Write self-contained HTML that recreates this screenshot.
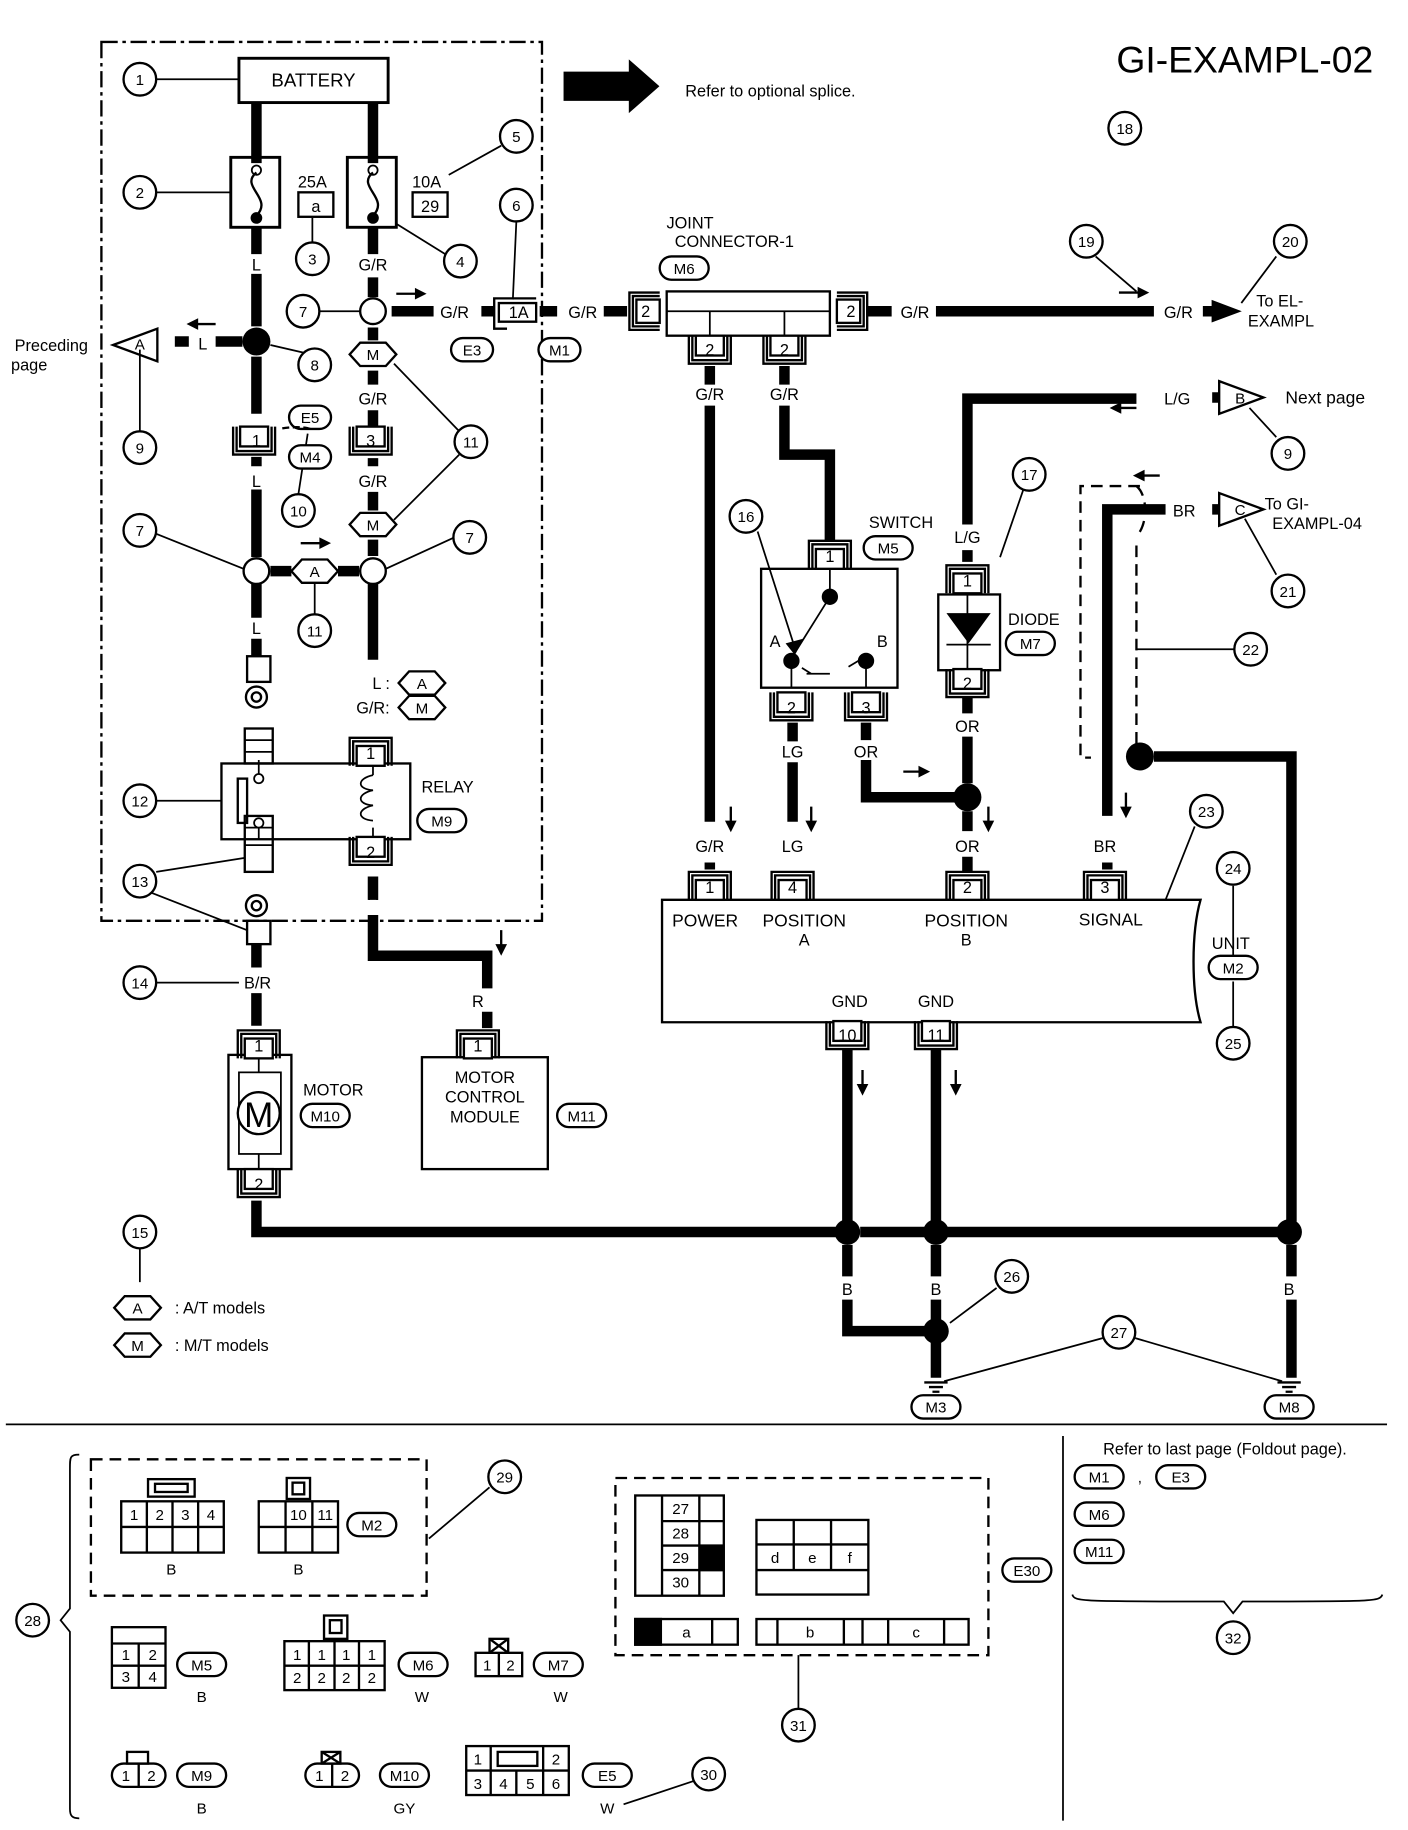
<!DOCTYPE html>
<html><head><meta charset="utf-8"><style>
html,body{margin:0;padding:0;background:#fff}
svg{display:block}
text{font-family:"Liberation Sans",sans-serif;fill:#000}
</style></head><body>
<svg width="1408" height="1830" viewBox="0 0 1208 1570" preserveAspectRatio="none" xmlns="http://www.w3.org/2000/svg">
<defs>
<g id="ct"><path d="M-18,12V-12H18V12M-15,12V-9H15V12" fill="none" stroke="#000" stroke-width="2"/><rect x="-12" y="-5" width="24" height="17" fill="#fff" stroke="#000" stroke-width="2"/></g>
<g id="cb"><path d="M-18,-12V12H18V-12M-15,-12V9H15V-12" fill="none" stroke="#000" stroke-width="2"/><rect x="-12" y="-12" width="24" height="17" fill="#fff" stroke="#000" stroke-width="2"/></g>
<g id="cl"><path d="M12,-16H-14V16H12M12,-13H-11V13H12" fill="none" stroke="#000" stroke-width="2"/><rect x="-8" y="-10" width="20" height="20" fill="#fff" stroke="#000" stroke-width="2"/></g>
<g id="cr"><path d="M-12,-16H14V16H-12M-12,-13H11V13H-12" fill="none" stroke="#000" stroke-width="2"/><rect x="-12" y="-10" width="20" height="20" fill="#fff" stroke="#000" stroke-width="2"/></g>
<g id="gnd"><path d="M-10,0H10M-6,4H6M-3,8H3" stroke="#000" stroke-width="2"/></g>
</defs>
<g fill="none" stroke="#000">
<rect x="87" y="36" width="378" height="754" stroke-width="2" stroke-dasharray="14,4,3,4"/>
<g stroke-width="9">
<path d="M220,88V140M320,88V140"/>
<path d="M220,195V218M220,235V280M220,306V355M220,392V400M220,420V478M220,500V530M220,548V563"/>
<path d="M320,195V218M320,238V255M320,281V292M320,318V330M320,352V367M320,393V400M320,422V438M320,463V477M320,500V566"/>
<path d="M336,267H372M413,267H424"/>
<path d="M232,490H250M290,490H308"/>
<path d="M150,293H162M185,293H208"/>
<path d="M463,267H478M518,267H538"/>
<path d="M744,267H765M803,267H990M1032,267H1040"/>
<path d="M609,314V330M609,348V705M609,740V746M673,314V330M673,348V390H712V465"/>
<path d="M680,620V636M680,654V705"/>
<path d="M743,620V635M743,652V684H820"/>
<path d="M975,342H830V450M830,472V482"/>
<path d="M830,598V612M830,632V672M830,696V713M830,735V748"/>
<path d="M1000,437H950V700M950,740V746"/>
<path d="M990,649H1108V1048"/>
<path d="M1108,1068V1095M1108,1115V1182"/>
<path d="M320,752V772M320,785V820H418V848M418,868V882"/>
<path d="M220,810V830M220,852V880"/>
<path d="M220,1030V1057H718M738,1057H795M812,1057H1098"/>
<path d="M727,900V1048M727,1068V1095M727,1115V1142H795"/>
<path d="M803,900V1048M803,1068V1095M803,1115V1182"/>
<path d="M1040,341H1046M1040,437H1046"/>
</g>
<path d="M1040,258L1064,267L1040,276Z" fill="#000" stroke-width="1"/>
<path d="M484,62H540V52L565,74L540,96V86H484Z" fill="#000" stroke-width="1"/>
<rect x="205" y="50" width="128" height="38" stroke-width="2.5"/>
<rect x="198" y="135" width="42" height="60" stroke-width="2.5"/>
<rect x="298" y="135" width="42" height="60" stroke-width="2.5"/>
<path d="M220,148C205,160 235,170 220,185M320,148C305,160 335,170 320,185" stroke-width="2"/>
<rect x="256" y="165" width="30" height="21" stroke-width="2"/>
<rect x="354" y="165" width="30" height="21" stroke-width="2"/>
<rect x="572" y="250" width="140" height="38" stroke-width="2"/>
<path d="M572,267H712M609,267V288M673,267V288" stroke-width="1.5"/>
<rect x="653" y="488" width="117" height="102" stroke-width="2"/>
<path d="M712,488V512M679,568V590M743,568V590" stroke-width="1.5"/>
<path d="M712,512L682,560M692,578H712M728,572L738,566M688,573L696,578" stroke-width="1.5"/>
<rect x="805" y="510" width="53" height="65" stroke-width="2"/>
<path d="M830,510V575M812,553H850" stroke-width="1.5"/>
<path d="M978,417H927V650H936M975,417C985,425 985,450 975,460M975,468V640" stroke-width="2" stroke-dasharray="10,6"/>
<rect x="190" y="655" width="162" height="65" stroke-width="2"/>
<rect x="204" y="668" width="8" height="38" stroke-width="2"/>
<path d="M222,652V668M222,706V720M320,655V665M320,710V720" stroke-width="1.5"/>
<path d="M320,665c-14,3 -14,12 0,13c-14,3 -14,12 0,13c-14,3 -14,12 0,13" stroke-width="1.5"/>
<rect x="210" y="625" width="24" height="30" stroke-width="2"/>
<path d="M210,635H234M210,645H234M210,710H234M210,725H234" stroke-width="1.5"/>
<rect x="210" y="700" width="24" height="48" stroke-width="2"/>
<rect x="212" y="563" width="20" height="22" stroke-width="2"/>
<circle cx="220" cy="598" r="9" stroke-width="2"/><circle cx="220" cy="598" r="4" stroke-width="2"/>
<circle cx="220" cy="777" r="9" stroke-width="2"/><circle cx="220" cy="777" r="4" stroke-width="2"/>
<rect x="212" y="790" width="20" height="20" stroke-width="2"/>
<rect x="196" y="905" width="54" height="98" stroke-width="2"/>
<rect x="205" y="920" width="36" height="70" stroke-width="1.5"/>
<path d="M222,905V920M222,990V1003" stroke-width="1.5"/>
<circle cx="222" cy="955" r="18" stroke-width="2" fill="#fff"/>
<rect x="362" y="907" width="108" height="96" stroke-width="2"/>
<path d="M568,772H1030C1022,800 1022,850 1030,877H568Z" stroke-width="2"/>
<g stroke-width="2" fill="#fff"><circle cx="320" cy="267" r="11"/><circle cx="220" cy="490" r="11"/><circle cx="320" cy="490" r="11"/></g>
<g stroke-width="2" fill="#fff">
<path d="M300,304L309,294H331L340,304L331,314H309Z"/>
<path d="M300,450L309,440H331L340,450L331,460H309Z"/>
<path d="M250,490L259,480H281L290,490L281,500H259Z"/>
<path d="M342,586L351,576H373L382,586L373,596H351Z"/>
<path d="M342,607L351,597H373L382,607L373,617H351Z"/>
<path d="M98,1122L107,1112H129L138,1122L129,1132H107Z"/>
<path d="M98,1154L107,1144H129L138,1154L129,1164H107Z"/>
</g>
<g stroke-width="2" fill="#fff">
<path d="M97,296L135,282V310Z"/>
<path d="M1046,327L1084,341L1046,355Z"/>
<path d="M1046,423L1084,437L1046,451Z"/>
</g>
<g fill="#000" stroke="none">
<circle cx="220" cy="293" r="12"/><circle cx="830" cy="684" r="12"/><circle cx="978" cy="649" r="12"/>
<circle cx="727" cy="1057" r="11"/><circle cx="803" cy="1057" r="11"/><circle cx="1106" cy="1057" r="11"/><circle cx="803" cy="1142" r="11"/>
<circle cx="220" cy="187" r="5"/><circle cx="320" cy="187" r="5"/>
<circle cx="712" cy="512" r="7"/><circle cx="679" cy="567" r="7"/><circle cx="743" cy="567" r="7"/>
<path d="M812,526H850L831,552Z"/>
<path d="M674,552L689,548L682,562Z"/>
</g>
<circle cx="220" cy="146" r="4" stroke-width="1.5"/><circle cx="320" cy="146" r="4" stroke-width="1.5"/>
<circle cx="222" cy="668" r="4" stroke-width="1.5" fill="#fff"/><circle cx="222" cy="706" r="4" stroke-width="1.5" fill="#fff"/>
<use href="#gnd" x="803" y="1186"/><use href="#gnd" x="1106" y="1186"/>
<g stroke-width="2">
<path d="M340,252H358M430,798V812M627,692V706M696,692V706M848,692V706M966,680V694M740,918V932M820,918V932M960,251H978M775,662H790M960,350H975M980,408H995M258,466H276M168,278H185"/>
</g>
<g fill="#000" stroke="none">
<path d="M356,247L366,252L356,257Z"/><path d="M425,810L430,820L435,810Z"/><path d="M622,704L627,714L632,704Z"/><path d="M691,704L696,714L701,704Z"/><path d="M843,704L848,714L853,704Z"/><path d="M961,692L966,702L971,692Z"/><path d="M735,930L740,940L745,930Z"/><path d="M815,930L820,940L825,930Z"/><path d="M976,246L986,251L976,256Z"/><path d="M788,657L798,662L788,667Z"/><path d="M962,345L952,350L962,355Z"/><path d="M982,403L972,408L982,413Z"/><path d="M274,461L284,466L274,471Z"/><path d="M170,273L160,278L170,283Z"/>
</g>
<g stroke-width="1.5">
<path d="M134,68H205M134,165H198M268,208V187M382,218L340,192M430,125L385,150M443,190L440,257M274,267H309M284,308L232,296M120,370V300M256,424L264,372M394,370L338,312M394,390L338,446M134,458L209,488M390,461L331,488M270,527V500M134,687H190M134,748L210,736M130,766L212,798M134,843H205M120,1043V1100M650,456L682,556M878,420L858,478M940,220L975,250M1095,220L1065,260M1095,375L1072,350M1095,493L1068,445M1059,557H975M1025,709L1000,772M1058,760V830M1058,842V881M855,1105L815,1135M946,1148L810,1185M974,1148L1100,1185M420,1276L368,1320M595,1528L535,1548M685,1466V1420"/>
</g>
<g stroke-width="2" fill="#fff">
<circle cx="120" cy="68" r="14"/><circle cx="120" cy="165" r="14"/><circle cx="268" cy="222" r="14"/><circle cx="395" cy="224" r="14"/><circle cx="443" cy="117" r="14"/><circle cx="443" cy="176" r="14"/><circle cx="260" cy="267" r="14"/><circle cx="270" cy="313" r="14"/><circle cx="120" cy="384" r="14"/><circle cx="256" cy="438" r="14"/><circle cx="404" cy="379" r="14"/><circle cx="120" cy="455" r="14"/><circle cx="403" cy="461" r="14"/><circle cx="270" cy="541" r="14"/><circle cx="120" cy="687" r="14"/><circle cx="120" cy="756" r="14"/><circle cx="120" cy="843" r="14"/><circle cx="120" cy="1057" r="14"/><circle cx="640" cy="443" r="14"/><circle cx="883" cy="407" r="14"/><circle cx="965" cy="110" r="14"/><circle cx="932" cy="207" r="14"/><circle cx="1107" cy="207" r="14"/><circle cx="1105" cy="389" r="14"/><circle cx="1105" cy="507" r="14"/><circle cx="1073" cy="557" r="14"/><circle cx="1035" cy="696" r="14"/><circle cx="1058" cy="745" r="14"/><circle cx="1058" cy="895" r="14"/><circle cx="868" cy="1095" r="14"/><circle cx="960" cy="1143" r="14"/><circle cx="28" cy="1390" r="14"/><circle cx="433" cy="1267" r="14"/><circle cx="608" cy="1522" r="14"/><circle cx="685" cy="1480" r="14"/><circle cx="1058" cy="1405" r="14"/>
</g>
<g stroke-width="2" fill="#fff">
<rect x="387" y="290" width="36" height="20" rx="10"/><rect x="462" y="290" width="36" height="20" rx="10"/>
<rect x="248" y="348" width="36" height="20" rx="10"/><rect x="248" y="382" width="36" height="20" rx="10"/>
<rect x="566" y="220" width="42" height="20" rx="10"/><rect x="741" y="460" width="42" height="20" rx="10"/><rect x="863" y="542" width="42" height="20" rx="10"/>
<rect x="358" y="694" width="42" height="20" rx="10"/><rect x="258" y="947" width="42" height="20" rx="10"/><rect x="478" y="947" width="42" height="20" rx="10"/>
<rect x="1037" y="820" width="42" height="20" rx="10"/><rect x="782" y="1197" width="42" height="20" rx="10"/><rect x="1085" y="1197" width="42" height="20" rx="10"/>
<rect x="922" y="1257" width="42" height="20" rx="10"/><rect x="992" y="1257" width="42" height="20" rx="10"/><rect x="922" y="1289" width="42" height="20" rx="10"/><rect x="922" y="1321" width="42" height="20" rx="10"/>
<rect x="298" y="1298" width="42" height="20" rx="10"/><rect x="152" y="1418" width="42" height="20" rx="10"/><rect x="342" y="1418" width="42" height="20" rx="10"/><rect x="458" y="1418" width="42" height="20" rx="10"/>
<rect x="152" y="1513" width="42" height="20" rx="10"/><rect x="326" y="1513" width="42" height="20" rx="10"/><rect x="500" y="1513" width="42" height="20" rx="10"/><rect x="860" y="1337" width="42" height="20" rx="10"/>
</g>
<path d="M266,368C262,366 248,366 240,368" stroke-width="2" stroke-dasharray="6,3"/>
<path d="M5,1222H1190M912,1232V1562" stroke-width="1.5"/>
<path d="M68,1248C60,1248 60,1250 60,1260V1380L52,1390L60,1400V1552C60,1558 62,1560 68,1560" stroke-width="1.5"/>
<path d="M920,1368C922,1374 925,1374 1050,1374L1058,1384L1066,1374C1180,1374 1184,1374 1186,1368" stroke-width="1.5"/>
<rect x="78" y="1252" width="288" height="117" stroke-width="2" stroke-dasharray="10,6"/>
<rect x="528" y="1268" width="320" height="152" stroke-width="2" stroke-dasharray="10,6"/>
<g stroke-width="2" fill="#fff">
<rect x="104" y="1288" width="88" height="44"/><path d="M104,1310H192M126,1288V1332M148,1288V1332M170,1288V1332"/><rect x="127" y="1269" width="40" height="15"/><rect x="133" y="1273" width="28" height="7"/>
<rect x="222" y="1288" width="68" height="44"/><path d="M222,1310H290M245,1288V1332M268,1288V1332"/><rect x="246" y="1268" width="20" height="18"/><rect x="251" y="1272" width="10" height="10"/>
<rect x="545" y="1283" width="76" height="86"/><path d="M568,1283V1369M600,1283V1369M568,1305H621M568,1326H621M568,1347H621"/><rect x="601" y="1327" width="19" height="20" fill="#000"/>
<rect x="649" y="1304" width="96" height="64"/><path d="M649,1325H745M649,1347H745M681,1304V1347M713,1304V1347"/>
<rect x="545" y="1389" width="88" height="22"/><rect x="545" y="1389" width="22" height="22" fill="#000"/><path d="M611,1389V1411"/>
<rect x="649" y="1389" width="182" height="22"/><path d="M667,1389V1411M724,1389V1411M740,1389V1411M762,1389V1411M810,1389V1411"/>
<rect x="96" y="1396" width="46" height="52"/><path d="M96,1410H142M96,1429H142M119,1410V1448"/>
<rect x="244" y="1408" width="86" height="42"/><path d="M244,1429H330M265,1408V1450M287,1408V1450M308,1408V1450"/><rect x="278" y="1386" width="20" height="20"/><rect x="283" y="1390" width="10" height="11"/>
<rect x="408" y="1418" width="40" height="20"/><path d="M428,1418V1438"/><rect x="420" y="1406" width="16" height="12"/><path d="M420,1406L436,1418M436,1406L420,1418"/>
<rect x="96" y="1513" width="46" height="20" rx="10"/><path d="M119,1513V1533"/><rect x="109" y="1503" width="18" height="10"/>
<rect x="262" y="1513" width="46" height="20" rx="10"/><path d="M285,1513V1533"/><rect x="276" y="1503" width="16" height="10"/><path d="M276,1503L292,1513M292,1503L276,1513"/>
<rect x="400" y="1498" width="88" height="42"/><path d="M400,1519H488M421,1498V1540M466,1498V1519M443,1519V1540M466,1519V1540"/><rect x="427" y="1503" width="34" height="12"/>
</g>
</g>
<use href="#cb" x="218" y="378"/><use href="#cb" x="318" y="378"/>
<use href="#ct" x="318" y="645"/><use href="#cb" x="318" y="730"/>
<use href="#ct" x="222" y="896"/><use href="#cb" x="222" y="1015"/>
<use href="#ct" x="410" y="896"/>
<use href="#ct" x="609" y="760"/><use href="#ct" x="680" y="760"/><use href="#ct" x="830" y="760"/><use href="#ct" x="948" y="760"/>
<use href="#cb" x="727" y="888"/><use href="#cb" x="803" y="888"/>
<use href="#ct" x="712" y="476"/><use href="#cb" x="679" y="606"/><use href="#cb" x="743" y="606"/>
<use href="#ct" x="830" y="497"/><use href="#cb" x="830" y="586"/>
<use href="#cb" x="609" y="300"/><use href="#cb" x="673" y="300"/>
<use href="#cl" x="554" y="267"/><use href="#cr" x="730" y="267"/>
<g fill="none" stroke="#000" stroke-width="2"><path d="M460,256H424V282H435M428,260H460V276H428Z"/></g>

<g font-size="14" text-anchor="middle">
<text x="269" y="74" font-size="16">BATTERY</text>
<text x="268" y="161">25A</text><text x="271" y="182">a</text>
<text x="366" y="161">10A</text><text x="369" y="182">29</text>
<text x="220" y="232">L</text><text x="320" y="232">G/R</text>
<text x="390" y="273">G/R</text><text x="445" y="273">1A</text><text x="500" y="273">G/R</text>
<text x="174" y="300">L</text>
<text x="220" y="349">L</text><text x="320" y="347">G/R</text><text x="220" y="418">L</text><text x="320" y="418">G/R</text>
<text x="220" y="544">L</text>
<text x="320" y="309" font-size="13">M</text><text x="320" y="455" font-size="13">M</text><text x="270" y="495" font-size="13">A</text>
<text x="362" y="591" font-size="13">A</text><text x="362" y="612" font-size="13">M</text>
<text x="327" y="591">L :</text><text x="320" y="612">G/R:</text>
<text x="120" y="300" font-size="13">A</text><text x="1064" y="346" font-size="13">B</text><text x="1064" y="442" font-size="13">C</text>
<text x="220" y="383">1</text><text x="318" y="383">3</text>
<text x="318" y="651">1</text><text x="318" y="736">2</text>
<text x="222" y="902">1</text><text x="222" y="1021">2</text><text x="410" y="902">1</text>
<text x="222" y="967" font-size="30">M</text>
<text x="221" y="848">B/R</text><text x="320" y="772">R</text><text x="410" y="864">R</text>
<text x="384" y="680">RELAY</text>
<text x="286" y="940">MOTOR</text>
<text x="416" y="929">MOTOR</text><text x="416" y="946">CONTROL</text><text x="416" y="963">MODULE</text>
<text x="1068" y="62" font-size="32">GI-EXAMPL-02</text>
<text x="661" y="83">Refer to optional splice.</text>
<text x="44" y="301">Preceding</text><text x="25" y="318">page</text>
<text x="592" y="196">JOINT</text><text x="630" y="212">CONNECTOR-1</text>
<text x="554" y="272">2</text><text x="730" y="272">2</text><text x="609" y="305">2</text><text x="673" y="305">2</text>
<text x="785" y="273">G/R</text><text x="1011" y="273">G/R</text>
<text x="1098" y="263">To EL-</text><text x="1099" y="280">EXAMPL</text>
<text x="609" y="343">G/R</text><text x="673" y="343">G/R</text>
<text x="1010" y="347">L/G</text><text x="1137" y="346" font-size="15">Next  page</text>
<text x="1016" y="443">BR</text><text x="1104" y="437">To GI-</text><text x="1130" y="454">EXAMPL-04</text>
<text x="773" y="453">SWITCH</text><text x="712" y="482">1</text>
<text x="665" y="555">A</text><text x="757" y="555">B</text>
<text x="679" y="612">2</text><text x="743" y="612">3</text>
<text x="680" y="650">LG</text><text x="743" y="650">OR</text><text x="680" y="731">LG</text>
<text x="830" y="466">L/G</text><text x="830" y="503">1</text><text x="830" y="591">2</text>
<text x="887" y="536">DIODE</text>
<text x="830" y="628">OR</text><text x="830" y="731">OR</text>
<text x="609" y="731">G/R</text><text x="948" y="731">BR</text>
<text x="609" y="766">1</text><text x="680" y="766">4</text><text x="830" y="766">2</text><text x="948" y="766">3</text>
<text x="605" y="795" font-size="15">POWER</text><text x="690" y="795" font-size="15">POSITION</text><text x="690" y="811">A</text>
<text x="829" y="795" font-size="15">POSITION</text><text x="829" y="811">B</text><text x="953" y="794" font-size="15">SIGNAL</text>
<text x="729" y="864">GND</text><text x="803" y="864">GND</text>
<text x="727" y="893">10</text><text x="803" y="893">11</text>
<text x="1056" y="814">UNIT</text>
<text x="727" y="1111">B</text><text x="803" y="1111">B</text><text x="1106" y="1111">B</text>
<text x="118" y="1127" font-size="13">A</text><text x="118" y="1159" font-size="13">M</text>
<text x="150" y="1127" text-anchor="start">: A/T models</text><text x="150" y="1159" text-anchor="start">: M/T models</text>
</g>
<g font-size="13" text-anchor="middle">
<text x="120" y="73">1</text><text x="120" y="170">2</text><text x="268" y="227">3</text><text x="395" y="229">4</text><text x="443" y="122">5</text><text x="443" y="181">6</text><text x="260" y="272">7</text><text x="270" y="318">8</text><text x="120" y="389">9</text><text x="256" y="443">10</text><text x="404" y="384">11</text><text x="120" y="460">7</text><text x="403" y="466">7</text><text x="270" y="546">11</text><text x="120" y="692">12</text><text x="120" y="761">13</text><text x="120" y="848">14</text><text x="120" y="1062">15</text><text x="640" y="448">16</text><text x="883" y="412">17</text><text x="965" y="115">18</text><text x="932" y="212">19</text><text x="1107" y="212">20</text><text x="1105" y="394">9</text><text x="1105" y="512">21</text><text x="1073" y="562">22</text><text x="1035" y="701">23</text><text x="1058" y="750">24</text><text x="1058" y="900">25</text><text x="868" y="1100">26</text><text x="960" y="1148">27</text><text x="28" y="1395">28</text><text x="433" y="1272">29</text><text x="608" y="1527">30</text><text x="685" y="1485">31</text><text x="1058" y="1410">32</text>
<text x="405" y="305">E3</text><text x="480" y="305">M1</text><text x="266" y="363">E5</text><text x="266" y="397">M4</text>
<text x="587" y="235">M6</text><text x="762" y="475">M5</text><text x="884" y="557">M7</text><text x="379" y="709">M9</text><text x="279" y="962">M10</text><text x="499" y="962">M11</text>
<text x="1058" y="835">M2</text><text x="803" y="1212">M3</text><text x="1106" y="1212">M8</text>
<text x="943" y="1272">M1</text><text x="978" y="1272">,</text><text x="1013" y="1272">E3</text><text x="943" y="1304">M6</text><text x="943" y="1336">M11</text>
<text x="1051" y="1248" font-size="14">Refer to last page (Foldout page).</text>
<text x="319" y="1313">M2</text><text x="173" y="1433">M5</text><text x="363" y="1433">M6</text><text x="479" y="1433">M7</text>
<text x="173" y="1528">M9</text><text x="347" y="1528">M10</text><text x="521" y="1528">E5</text><text x="881" y="1352">E30</text>
<text x="115" y="1304">1</text><text x="137" y="1304">2</text><text x="159" y="1304">3</text><text x="181" y="1304">4</text>
<text x="256" y="1304">10</text><text x="279" y="1304">11</text>
<text x="147" y="1351">B</text><text x="256" y="1351">B</text>
<text x="584" y="1299">27</text><text x="584" y="1320">28</text><text x="584" y="1341">29</text><text x="584" y="1362">30</text>
<text x="665" y="1341">d</text><text x="697" y="1341">e</text><text x="729" y="1341">f</text>
<text x="589" y="1405">a</text><text x="695" y="1405">b</text><text x="786" y="1405">c</text>
<text x="108" y="1424">1</text><text x="131" y="1424">2</text><text x="108" y="1443">3</text><text x="131" y="1443">4</text><text x="173" y="1460">B</text>
<text x="255" y="1424">1</text><text x="276" y="1424">1</text><text x="297" y="1424">1</text><text x="319" y="1424">1</text>
<text x="255" y="1444">2</text><text x="276" y="1444">2</text><text x="297" y="1444">2</text><text x="319" y="1444">2</text><text x="362" y="1460">W</text>
<text x="418" y="1433">1</text><text x="438" y="1433">2</text><text x="481" y="1460">W</text>
<text x="108" y="1528">1</text><text x="130" y="1528">2</text><text x="173" y="1556">B</text>
<text x="274" y="1528">1</text><text x="296" y="1528">2</text><text x="347" y="1556">GY</text>
<text x="410" y="1514">1</text><text x="477" y="1514">2</text><text x="410" y="1535">3</text><text x="432" y="1535">4</text><text x="455" y="1535">5</text><text x="477" y="1535">6</text><text x="521" y="1556">W</text>
</g>
</svg>
</body></html>
